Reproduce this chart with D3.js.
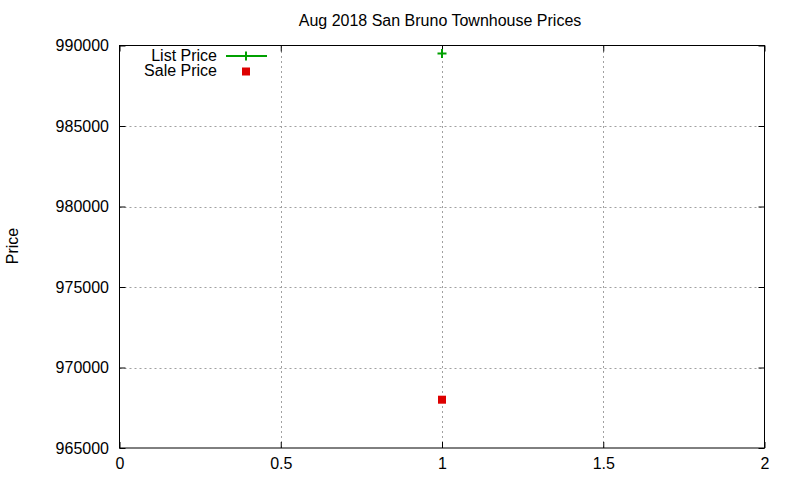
<!DOCTYPE html>
<meta charset="utf-8">
<script src="https://d3js.org/d3.v7.js"></script>
<style type="text/css">
body { margin: 0; background: #fff; }
text { font-family: "Liberation Sans", Arial, sans-serif; font-size: 16px; fill: #000; }
</style>
<div id="chart"></div>
<script>
// data
var title = "Aug 2018 San Bruno Townhouse Prices";
var xValues = [1];
var listPrice = [989500];
var salePrice = [968000];
var xTicks = [0, 0.5, 1, 1.5, 2];
var yTicks = [965000, 970000, 975000, 980000, 985000, 990000];

const W = 800, H = 480;
const margin = {top: 45.5, right: 35.5, bottom: 32, left: 119.5};

var svg = d3.select("#chart")
	.append("svg")
	.attr("width", W)
	.attr("height", H);

var x = d3.scaleLinear()
	.domain([0, 2])
	.range([margin.left, W - margin.right]);

var y = d3.scaleLinear()
	.domain([965000, 990000])
	.range([H - margin.bottom, margin.top]);

// grid
var grid = svg.append("g")
	.attr("stroke", "#a0a0a0")
	.attr("stroke-width", 1)
	.attr("stroke-dasharray", "2,3");
grid.selectAll("line.gx")
	.data(xTicks.slice(1, -1))
	.enter().append("line")
	.attr("x1", d => Math.round(x(d)) + 0.5).attr("x2", d => Math.round(x(d)) + 0.5)
	.attr("y1", y(965000)).attr("y2", y(990000));
grid.selectAll("line.gy")
	.data(yTicks.slice(1, -1))
	.enter().append("line")
	.attr("x1", x(0)).attr("x2", x(2))
	.attr("y1", d => Math.round(y(d)) + 0.5).attr("y2", d => Math.round(y(d)) + 0.5);

// axes, gnuplot style: ticks pointing inwards, mirrored
var axBottom = svg.append("g")
	.attr("transform", `translate(0,${y(965000)})`)
	.call(d3.axisBottom(x).tickValues(xTicks).tickSize(-6).tickPadding(9.5).tickFormat(d3.format("")));
var axTop = svg.append("g")
	.attr("transform", `translate(0,${y(990000)})`)
	.call(d3.axisTop(x).tickValues(xTicks).tickSize(-6).tickFormat(""));
var axLeft = svg.append("g")
	.attr("transform", `translate(${x(0)},0)`)
	.call(d3.axisLeft(y).tickValues(yTicks).tickSize(-6).tickPadding(10.5).tickFormat(d3.format("d")));
var axRight = svg.append("g")
	.attr("transform", `translate(${x(2)},0)`)
	.call(d3.axisRight(y).tickValues(yTicks).tickSize(-6).tickFormat(""));

[axBottom, axTop, axLeft, axRight].forEach(function(g){
	g.attr("font-size", null).attr("font-family", null);
	g.select(".domain").remove();
	g.selectAll("line").attr("stroke", "#000");
	g.selectAll("text").attr("fill", "#000");
});

// border
svg.append("rect")
	.attr("x", x(0)).attr("y", y(990000))
	.attr("width", x(2) - x(0)).attr("height", y(965000) - y(990000))
	.attr("fill", "none").attr("stroke", "#000").attr("stroke-width", 1);

// title and y label
svg.append("text")
	.attr("x", 440).attr("y", 26)
	.attr("text-anchor", "middle")
	.text(title);
svg.append("text")
	.attr("transform", "translate(18,246) rotate(-90)")
	.attr("text-anchor", "middle")
	.text("Price");

// plus marker path
function plus(cx, cy, s) {
	return `M${cx - s},${cy}H${cx + s}M${cx},${cy - s}V${cy + s}`;
}

// list price points
svg.append("g").selectAll("path")
	.data(xValues.map((d, i) => [d, listPrice[i]]))
	.enter().append("path")
	.attr("d", d => plus(x(d[0]), y(d[1]), 4.5))
	.attr("stroke", "#00a000").attr("stroke-width", 2).attr("fill", "none");

// sale price points
svg.append("g").selectAll("rect")
	.data(xValues.map((d, i) => [d, salePrice[i]]))
	.enter().append("rect")
	.attr("x", d => x(d[0]) - 4).attr("y", d => y(d[1]) - 4)
	.attr("width", 8).attr("height", 8)
	.attr("fill", "#dd0000");

// legend
var legend = svg.append("g");
legend.append("text").attr("x", 217).attr("y", 61).attr("text-anchor", "end").text("List Price");
legend.append("line").attr("x1", 226).attr("x2", 267).attr("y1", 56).attr("y2", 56)
	.attr("stroke", "#00a000").attr("stroke-width", 2);
legend.append("path").attr("d", plus(246, 56, 4.5))
	.attr("stroke", "#00a000").attr("stroke-width", 2);
legend.append("text").attr("x", 217).attr("y", 76).attr("text-anchor", "end").text("Sale Price");
legend.append("rect").attr("x", 242).attr("y", 67.5).attr("width", 8).attr("height", 8)
	.attr("fill", "#dd0000");
</script>
